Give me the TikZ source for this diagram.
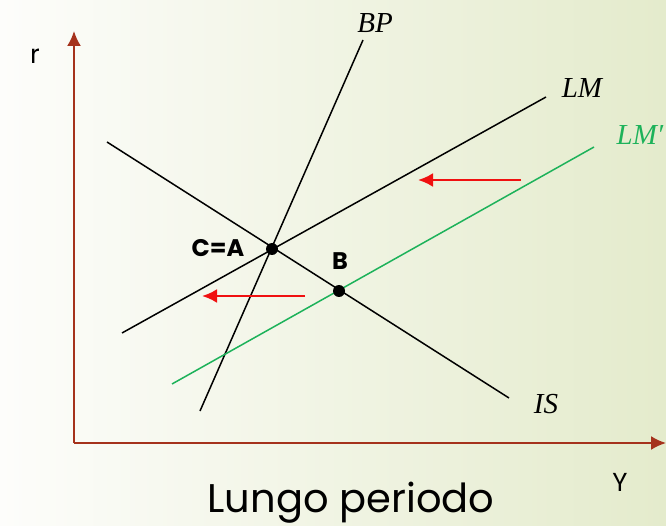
\documentclass[tikz,border=0pt]{standalone}
\usepackage{fontspec}
\newfontfamily\gothic{Poppins}
\newfontfamily\curvefont{Liberation Serif}
\usepackage{tikz}
\usetikzlibrary{arrows.meta,positioning}
\definecolor{axisred}{HTML}{A5321C}
\definecolor{lmgreen}{HTML}{1DB25A}
\definecolor{shiftred}{HTML}{F01010}
\definecolor{bgleft}{HTML}{FDFDFB}
\definecolor{bgright}{HTML}{E4EBCC}
\tikzset{
  curve/.style={black,line width=1.5pt},
  axisline/.style={->,axisred,line width=2pt},
  shiftarrow/.style={->,shiftred,line width=2.4pt},
  dot/.style={circle,fill=black,inner sep=0pt,minimum size=12pt},
  lbl/.style={font=\curvefont\itshape\fontsize{29}{31}\selectfont},
  axlbl/.style={font=\gothic\fontsize{26}{28}\selectfont},
  ptlbl/.style={font=\gothic\bfseries\fontsize{24}{26}\selectfont}
}
\begin{document}
\begin{tikzpicture}[>={Latex[length=15pt,width=14pt]},x=1pt,y=-1pt]
\shade[left color=bgleft,right color=bgright] (0,0) rectangle (666,526);
\useasboundingbox (0,0) rectangle (666,526);
% axes
\coordinate (O) at (74,443);
\coordinate (rtop) at (74,31);
\coordinate (yend) at (666,443);
\draw[axisline] (O) -- (rtop);
\draw[axisline] (O) -- (yend);
\node[axlbl] (rlab) at (35,56) {r};
\node[axlbl] (ylab) at (620,482) {Y};
% curves
\coordinate (bp0) at (200,411);
\coordinate (bp1) at (363,40);
\coordinate (lm0) at (122,333);
\coordinate (lm1) at (546,97);
\coordinate (lmp0) at (172,384);
\coordinate (lmp1) at (594,147);
\coordinate (is0) at (107,142);
\coordinate (is1) at (509,398);
\draw[curve] (bp0) -- (bp1);
\draw[curve] (lm0) -- (lm1);
\draw[curve] (is0) -- (is1);
\draw[lmgreen,line width=1.5pt] (lmp0) -- (lmp1);
\node[lbl] (bplab) at (375,23) {BP};
\node[lbl] (lmlab) at (582,88) {LM};
\node[lbl,text=lmgreen] (lmplab) at (640,135) {LM′};
\node[lbl] (islab) at (546,404) {IS};
% equilibria
\node[dot] (A) at (272,249) {};
\node[dot] (B) at (339,291) {};
\node[ptlbl] (alab) at (218,248) {C=A};
\node[ptlbl] (blab) at (340,261) {B};
% shifts
\coordinate (s0) at (521,180);
\coordinate (s1) at (418,180);
\coordinate (t0) at (305,296);
\coordinate (t1) at (202,296);
\draw[shiftarrow] (s0) -- (s1);
\draw[shiftarrow] (t0) -- (t1);
\node[font=\gothic\fontsize{40}{42}\selectfont,anchor=base] (title) at (351,512) {Lungo periodo};
\end{tikzpicture}
\end{document}
